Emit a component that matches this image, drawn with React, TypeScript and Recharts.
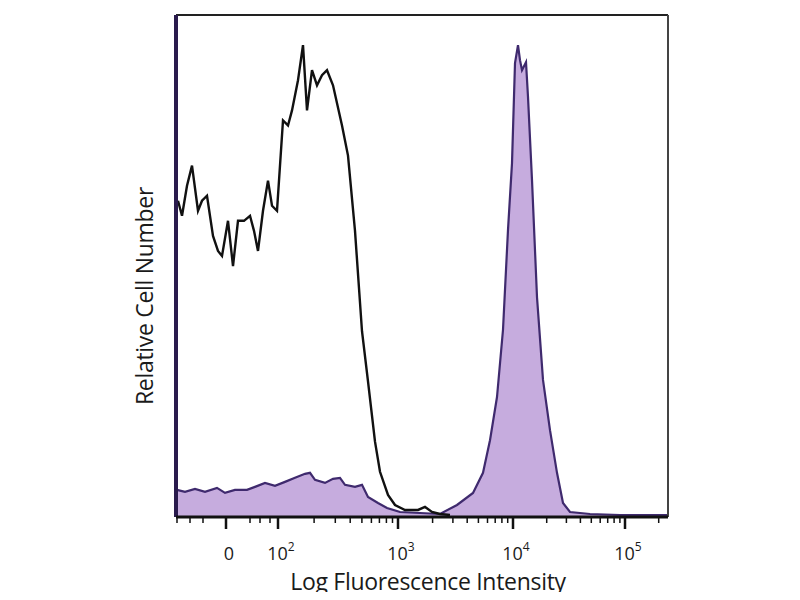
import { ComposedChart, Area, Line, XAxis, YAxis, ReferenceLine } from 'recharts'

// x is the display channel (0..492) of the biexponential axis, y is % of max count
const isotypeX = [2, 6, 11, 16, 22, 26, 31, 37, 42, 46, 52, 57, 62, 68, 74, 78, 82, 87, 92, 96, 101, 107, 112, 116, 122, 127, 131, 136, 141, 146, 151, 157, 166, 172, 179, 186, 192, 199, 204, 212, 219, 229, 242, 249, 256, 264, 274]
const isotypeY = [63, 60, 66, 70, 61, 63, 64, 56, 53, 52, 59, 50, 59, 59, 60, 57, 53, 61, 67, 62, 61, 79, 78, 81, 87, 94, 81, 89, 86, 88, 89, 86, 78, 72, 57, 37, 27, 15, 9, 4.4, 2.4, 1.4, 1.4, 2.0, 1.0, 0.6, 0.4]

const stainedX = [0, 1, 9, 19, 29, 41, 49, 59, 71, 79, 89, 99, 109, 119, 129, 134, 139, 149, 157, 164, 169, 179, 186, 192, 202, 211, 224, 244, 264, 281, 297, 307, 314, 321, 327, 332, 336, 339, 342, 344, 346, 350, 352, 356, 361, 367, 374, 381, 387, 394, 414, 444, 492]
const stainedY = [5.4, 5.4, 5.0, 5.6, 5.0, 5.8, 4.8, 5.4, 5.4, 6.0, 6.8, 6.2, 7.0, 7.8, 8.6, 8.8, 7.4, 6.8, 7.6, 7.8, 6.4, 6.0, 6.4, 4.0, 2.8, 1.8, 1.0, 0.8, 0.6, 2.4, 4.8, 8.8, 15.3, 23.9, 37.3, 57.2, 70.5, 90.4, 94.0, 91.0, 89.0, 90.6, 83.7, 67.1, 43.8, 27.3, 17.3, 8.8, 2.8, 1.0, 0.6, 0.4, 0.4]

const majorTicks = [50, 102, 222, 337, 449]
const majorLabels = ['0', '10|2', '10|3', '10|4', '10|5']
const linearMinorTicks = [1, 14, 27, 74, 84, 94]

const isotype = isotypeX.map((x, i) => ({ x, y: isotypeY[i] }))
const stained = stainedX.map((x, i) => ({ x, y: stainedY[i] }))

// log minor ticks between decades
const minorTicks: number[] = [...linearMinorTicks]
for (let d = 1; d < majorTicks.length; d++) {
  const a = majorTicks[d]
  const w = d < majorTicks.length - 1 ? majorTicks[d + 1] - a : majorTicks[d] - majorTicks[d - 1]
  for (let k = 2; k <= 9; k++) {
    const t = a + w * Math.log10(k)
    if (t < 492) minorTicks.push(Math.round(t * 10) / 10)
  }
}
const allTicks = [...majorTicks, ...minorTicks].sort((a, b) => a - b)

const FONT = '"Open Sans", "DejaVu Sans", sans-serif'

const AxisTick = (props: any) => {
  const { x, y, payload } = props
  const idx = majorTicks.indexOf(payload.value)
  const major = idx >= 0
  let label = null
  if (major) {
    const [base, exp] = majorLabels[idx].split('|')
    label = (
      <text x={x + 3} y={y + 43} textAnchor="middle" fontFamily={FONT} fontSize={18} fill="#1a1a1a">
        <tspan>{base}</tspan>
        {exp && <tspan dy={-9} fontSize={12}>{exp}</tspan>}
      </text>
    )
  }
  return (
    <g>
      <line x1={x} x2={x} y1={y} y2={y + (major ? 12 : 6)} stroke="#111" strokeWidth={major ? 2.5 : 1.5} />
      {label}
    </g>
  )
}

export default function App() {
  return (
    <div style={{ position: 'relative', width: 784, height: 584, background: '#fff' }}>
      <ComposedChart width={784} height={584} margin={{ top: 7, right: 124, bottom: 0, left: 168 }}>
        <XAxis
          type="number"
          dataKey="x"
          domain={[0, 492]}
          ticks={allTicks}
          interval={0}
          tick={<AxisTick />}
          tickSize={0}
          tickMargin={0}
          tickLine={false}
          height={75}
          axisLine={{ stroke: '#111', strokeWidth: 3 }}
          allowDataOverflow
        />
        <YAxis type="number" domain={[0, 100]} hide />
        <Area
          data={stained}
          dataKey="y"
          type="linear"
          baseValue={0}
          fill="#c6acde"
          fillOpacity={1}
          stroke="#3f2a6e"
          strokeWidth={2.2}
          isAnimationActive={false}
        />
        <Line
          data={isotype}
          dataKey="y"
          type="linear"
          stroke="#111"
          strokeWidth={2.4}
          dot={false}
          isAnimationActive={false}
        />
        <ReferenceLine y={100} stroke="#222" strokeWidth={2} />
        <ReferenceLine x={492} stroke="#444" strokeWidth={2} />
        <ReferenceLine x={0} stroke="#2a1b4d" strokeWidth={4} />
      </ComposedChart>
      <div
        style={{
          position: 'absolute',
          left: 120,
          top: 557,
          width: 600,
          textAlign: 'center',
          fontFamily: FONT,
          fontSize: 23,
          letterSpacing: -0.3,
          color: '#1a1a1a',
          whiteSpace: 'nowrap',
        }}
      >
        Log Fluorescence Intensity
      </div>
      <div
        style={{
          position: 'absolute',
          left: 136,
          top: 288,
          transform: 'translate(-50%, -50%) rotate(-90deg)',
          fontFamily: FONT,
          fontSize: 23,
          letterSpacing: -0.3,
          color: '#1a1a1a',
          whiteSpace: 'nowrap',
        }}
      >
        Relative Cell Number
      </div>
    </div>
  )
}
